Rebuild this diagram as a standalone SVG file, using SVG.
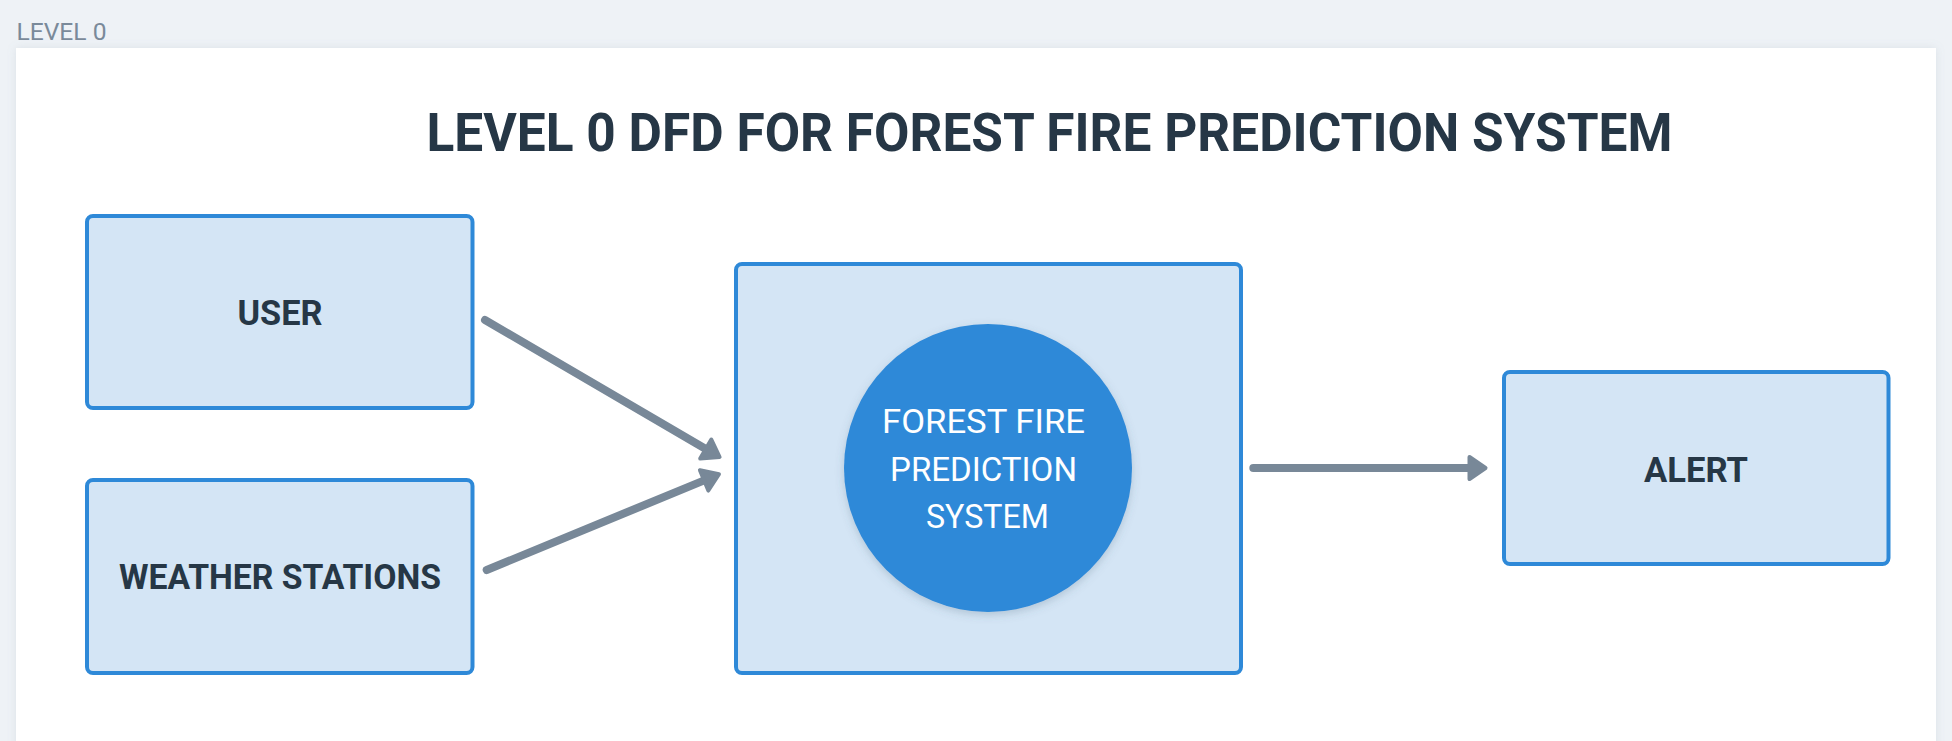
<svg xmlns="http://www.w3.org/2000/svg" width="1952" height="741" viewBox="0 0 1952 741">
  <style>
    .box { fill: #d4e5f5; stroke: #2e89d8; stroke-width: 4; }
    .lbl { font-family: Roboto, "Liberation Sans", sans-serif; font-weight: bold; font-size: 35px; fill: #263746; text-anchor: middle; }
    .proc { font-family: Roboto, "Liberation Sans", sans-serif; font-size: 33px; fill: #ffffff; text-anchor: middle; }
    .flow { fill: none; stroke: #788898; stroke-width: 8; stroke-linecap: round; }
  </style>
  <defs>
    <marker id="arrow" markerUnits="userSpaceOnUse" markerWidth="40" markerHeight="40" refX="2" refY="0" viewBox="-4 -20 40 40" orient="auto" overflow="visible">
      <path d="M0,-11 L16,0 L0,11 Z" fill="#788898" stroke="#788898" stroke-width="4" stroke-linejoin="round"/>
    </marker>
    <filter id="panelShadow" x="-5%" y="-5%" width="110%" height="110%">
      <feDropShadow dx="0" dy="0" stdDeviation="4" flood-color="#8090a0" flood-opacity="0.18"/>
    </filter>
    <filter id="circShadow" x="-20%" y="-20%" width="140%" height="140%">
      <feDropShadow dx="0" dy="3" stdDeviation="4" flood-color="#4a6078" flood-opacity="0.25"/>
    </filter>
  </defs>

  <rect x="0" y="0" width="1952" height="741" fill="#eef2f6"/>
  <text x="16.5" y="40" font-family="Roboto, 'Liberation Sans', sans-serif" font-size="24" fill="#7a8a9a" textLength="90" lengthAdjust="spacingAndGlyphs">LEVEL 0</text>
  <rect x="16" y="48" width="1920" height="720" fill="#ffffff" filter="url(#panelShadow)"/>

  <text x="1049.5" y="151" font-family="Roboto, 'Liberation Sans', sans-serif" font-weight="bold" font-size="53" fill="#263746" text-anchor="middle" textLength="1246" lengthAdjust="spacingAndGlyphs">LEVEL 0 DFD FOR FOREST FIRE PREDICTION SYSTEM</text>

  <g id="connectors">
    <line class="flow" x1="485" y1="320" x2="707.5" y2="450" marker-end="url(#arrow)"/>
    <line class="flow" x1="486.7" y1="570" x2="706" y2="479.6" marker-end="url(#arrow)"/>
    <line class="flow" x1="1253.3" y1="468" x2="1471.5" y2="468" marker-end="url(#arrow)"/>
  </g>

  <g id="user">
    <rect class="box" x="87" y="216" width="385.5" height="192" rx="6"/>
    <text class="lbl" x="280" y="325" textLength="85" lengthAdjust="spacingAndGlyphs">USER</text>
  </g>

  <g id="weather-stations">
    <rect class="box" x="87" y="480" width="385.5" height="193" rx="6"/>
    <text class="lbl" x="280" y="589" textLength="322" lengthAdjust="spacingAndGlyphs">WEATHER STATIONS</text>
  </g>

  <g id="process">
    <rect class="box" x="736" y="264" width="505" height="409" rx="6"/>
    <circle cx="988" cy="468" r="144" fill="#2e89d8" filter="url(#circShadow)"/>
    <text class="proc" x="983.5" y="432.7" textLength="203" lengthAdjust="spacingAndGlyphs">FOREST FIRE</text>
    <text class="proc" x="983.5" y="480.7" textLength="187" lengthAdjust="spacingAndGlyphs">PREDICTION</text>
    <text class="proc" x="987.5" y="528" textLength="123" lengthAdjust="spacingAndGlyphs">SYSTEM</text>
  </g>

  <g id="alert">
    <rect class="box" x="1504" y="372" width="384.5" height="192" rx="6"/>
    <text class="lbl" x="1696" y="481.7" textLength="104" lengthAdjust="spacingAndGlyphs">ALERT</text>
  </g>
</svg>
